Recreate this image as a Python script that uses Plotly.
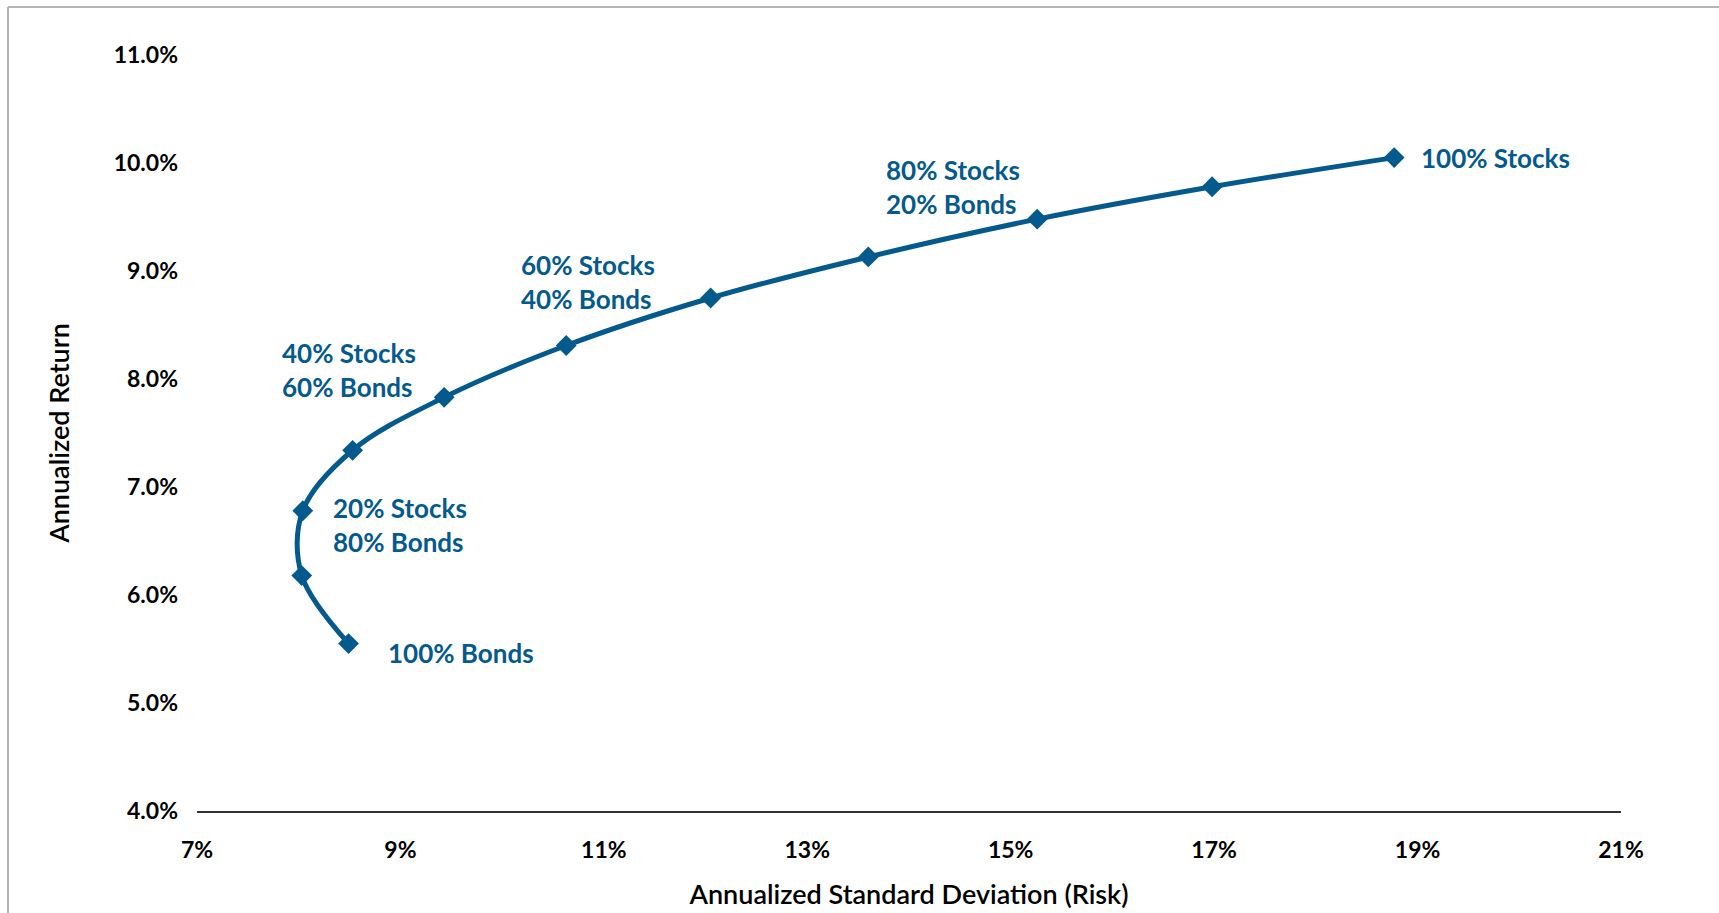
import plotly.graph_objects as go

# Data
mix_stocks = [0, 10, 20, 30, 40, 50, 60, 70, 80, 90, 100]
risk = [8.49, 8.03, 8.04, 8.53, 9.43, 10.63, 12.05, 13.60, 15.26, 16.98, 18.77]
ret = [5.55, 6.18, 6.78, 7.34, 7.83, 8.31, 8.75, 9.13, 9.48, 9.78, 10.05]

label_index = [0, 2, 4, 6, 8, 10]
label_text = ["100% Bonds", "20% Stocks<br>80% Bonds", "40% Stocks<br>60% Bonds",
              "60% Stocks<br>40% Bonds", "80% Stocks<br>20% Bonds", "100% Stocks"]
label_offsets = [(37, 9), (28, 14), (-164, -27), (-192, -16), (-153, -32), (25, 0)]

x_ticks = [7, 9, 11, 13, 15, 17, 19, 21]
x_tick_text = [f"{v}%" for v in x_ticks]
y_ticks = [4, 5, 6, 7, 8, 9, 10, 11]
y_tick_text = [f"{v:.1f}%" for v in y_ticks]

BLUE = "#045a8d"
FONT = "Lato"

fig = go.Figure()
fig.add_trace(go.Scatter(
    x=risk, y=ret, mode="lines+markers",
    line=dict(color=BLUE, width=5, shape="spline", smoothing=1),
    marker=dict(symbol="diamond", size=16, color=BLUE),
    hoverinfo="skip", showlegend=False,
))

for idx, txt, (dx, dy) in zip(label_index, label_text, label_offsets):
    fig.add_annotation(
        x=risk[idx], y=ret[idx], text=txt, showarrow=True, arrowcolor="rgba(0,0,0,0)",
        ax=dx, ay=dy, axref="pixel", ayref="pixel",
        xanchor="left", yanchor="middle", align="left",
        font=dict(family=FONT, size=26, color=BLUE, weight="bold"),
    )

W, H = 1719, 913
L, R, T, B = 197, 98, 55, 102
pw, ph = W - L - R, H - T - B

def px_x(p):
    return (p - L) / pw

def px_y(p):
    return (H - B - p) / ph

# outer frame (top and left edges visible)
fig.add_shape(type="line", xref="paper", yref="paper",
              x0=px_x(8), x1=px_x(W + 5), y0=px_y(7), y1=px_y(7),
              line=dict(color="#b4b4b4", width=2))
fig.add_shape(type="line", xref="paper", yref="paper",
              x0=px_x(8), x1=px_x(8), y0=px_y(7), y1=px_y(H + 5),
              line=dict(color="#b4b4b4", width=2))

fig.update_layout(
    width=W, height=H,
    margin=dict(l=L, r=R, t=T, b=B, autoexpand=False),
    paper_bgcolor="white", plot_bgcolor="white",
    font=dict(family=FONT, color="black"),
    xaxis=dict(
        range=[7, 21], tickvals=x_ticks, ticktext=x_tick_text, automargin=False,
        showgrid=False, zeroline=False, showline=True, linecolor="#333333", linewidth=2,
        ticks="", ticklabelstandoff=17,
        tickfont=dict(family=FONT, size=23, color="black", weight="bold"),
        title=dict(text="Annualized Standard Deviation (Risk)", standoff=24,
                   font=dict(family=FONT, size=27, color="black", weight=600)),
    ),
    yaxis=dict(
        range=[4, 11], tickvals=y_ticks, ticktext=y_tick_text, automargin=False,
        showgrid=False, zeroline=False, showline=False,
        ticks="", ticklabelstandoff=18,
        tickfont=dict(family=FONT, size=23, color="black", weight="bold"),
        title=dict(text="Annualized Return", standoff=36,
                   font=dict(family=FONT, size=27, color="black", weight=600)),
    ),
)

fig.write_html("out.html")
